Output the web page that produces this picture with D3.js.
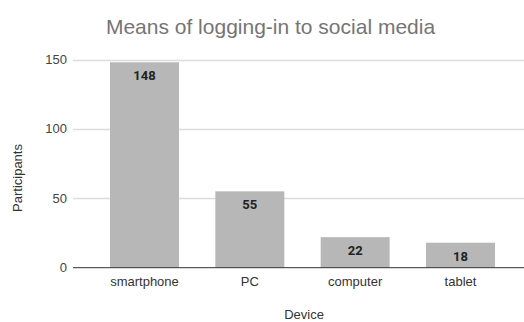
<!DOCTYPE html>
<html><head><meta charset="utf-8">
<script src="https://cdn.jsdelivr.net/npm/d3@7"></script>
<style>body{margin:0;background:#fff}svg{display:block}</style>
</head><body>
<script>
const categories = ["smartphone", "PC", "computer", "tablet"];
const values = [148, 55, 22, 18];
const yTicks = [0, 50, 100, 150];
const title = "Means of logging-in to social media";
const xTitle = "Device";
const yTitle = "Participants";

const W = 524, H = 322;
const svg = d3.select("body").append("svg").attr("width", W).attr("height", H);

const y = d3.scaleLinear().domain([0, 150]).range([267.7, 59.5]);
const x = d3.scaleBand().domain(categories).range([110, 495]).paddingInner(0.345).paddingOuter(0);

// gridlines
svg.append("g").selectAll("line").data(yTicks.filter(d => d > 0)).join("line")
  .attr("x1", 73).attr("x2", W).attr("y1", d => Math.round(y(d)) + 0.5).attr("y2", d => Math.round(y(d)) + 0.5)
  .attr("stroke", "#dcdcdc").attr("stroke-width", 1.5);

// y tick labels
svg.append("g").selectAll("text").data(yTicks).join("text")
  .attr("x", 67).attr("y", d => y(d)).attr("dy", "0.35em").attr("text-anchor", "end")
  .attr("font-family", "Liberation Sans, Arial, sans-serif").attr("font-size", 13).attr("fill", "#444")
  .text(d => d);

// bars
svg.append("g").selectAll("rect").data(values).join("rect")
  .attr("x", (d, i) => x(categories[i])).attr("width", x.bandwidth())
  .attr("y", d => y(d)).attr("height", d => y(0) - y(d))
  .attr("fill", "#b7b7b7");

// value labels
svg.append("g").selectAll("text").data(values).join("text")
  .attr("x", (d, i) => x(categories[i]) + x.bandwidth() / 2).attr("y", d => y(d) + 18)
  .attr("text-anchor", "middle")
  .attr("font-family", "Roboto, sans-serif").attr("font-weight", "bold").attr("font-size", 13).attr("fill", "#222")
  .text(d => d);

// zero line
svg.append("line").attr("x1", 73).attr("x2", W).attr("y1", y(0)).attr("y2", y(0))
  .attr("stroke", "#333").attr("stroke-width", 1);

// x labels
svg.append("g").selectAll("text").data(categories).join("text")
  .attr("x", d => x(d) + x.bandwidth() / 2).attr("y", 286).attr("text-anchor", "middle")
  .attr("font-family", "Liberation Sans, Arial, sans-serif").attr("font-size", 13).attr("fill", "#333")
  .text(d => d);

// axis titles
svg.append("text").attr("x", 304).attr("y", 319).attr("text-anchor", "middle")
  .attr("font-family", "Liberation Sans, Arial, sans-serif").attr("font-size", 13).attr("fill", "#333")
  .text(xTitle);
svg.append("text").attr("transform", "translate(17,178) rotate(-90)").attr("dy", "0.35em").attr("text-anchor", "middle")
  .attr("font-family", "Liberation Sans, Arial, sans-serif").attr("font-size", 13).attr("fill", "#333")
  .text(yTitle);

// title
svg.append("text").attr("x", 270.5).attr("y", 34).attr("text-anchor", "middle")
  .attr("font-family", "Liberation Sans, Arial, sans-serif").attr("font-size", 21).attr("fill", "#757575")
  .text(title);
</script>
</body></html>
